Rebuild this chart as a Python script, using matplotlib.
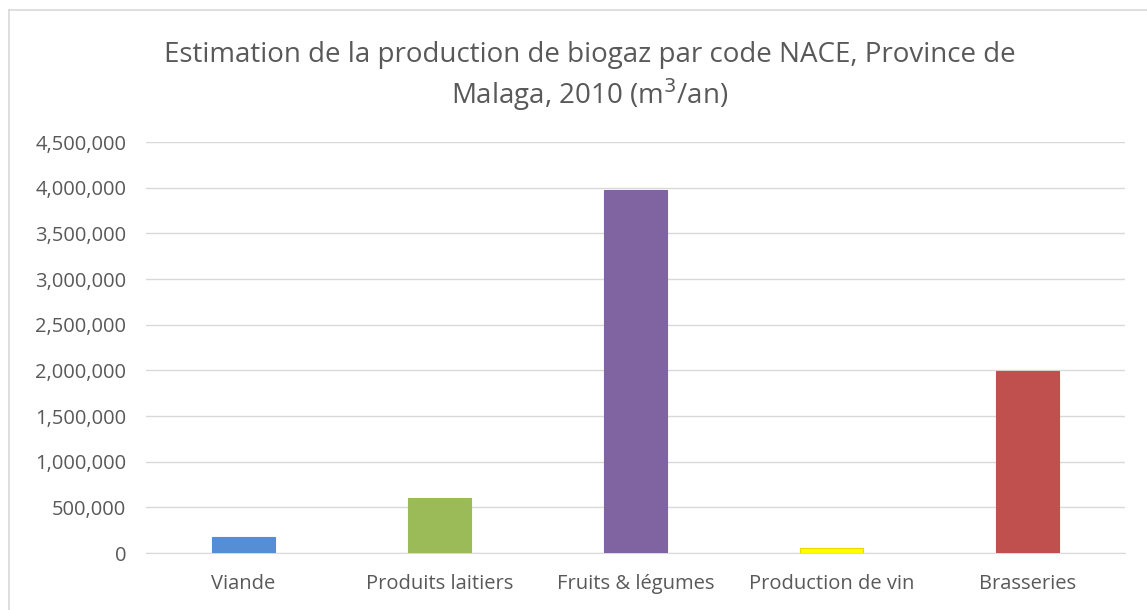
import matplotlib
matplotlib.use('Agg')
import matplotlib.pyplot as plt
import matplotlib.ticker as mticker
from matplotlib.lines import Line2D

categories = ['Viande', 'Produits laitiers', 'Fruits & légumes', 'Production de vin', 'Brasseries']
values = [180000, 600000, 3980000, 50000, 1990000]
colors = ['#558ED5', '#9BBB59', '#8064A2', '#FFFF00', '#C0504D']
edges = ['#558ED5', '#9BBB59', '#8064A2', '#E6D800', '#C0504D']

plt.rcParams['font.family'] = ['Open Sans', 'DejaVu Sans']
TXT = '#595959'
W, H = 1147, 610

fig = plt.figure(figsize=(W / 100, H / 100), dpi=100)
ax = fig.add_axes([0.127, 0.0934, 0.854, 0.6736])

x = range(len(categories))
ax.bar(x, values, width=0.32, color=colors, edgecolor=edges, linewidth=0.8, zorder=3)

ax.set_xlim(-0.5, len(categories) - 0.5)
ax.set_ylim(0, 4500000)
ax.yaxis.set_major_locator(mticker.MultipleLocator(500000))
ax.yaxis.set_major_formatter(mticker.FuncFormatter(lambda v, p: f'{int(v):,}'))
ax.grid(axis='y', color='#D9D9D9', lw=1.0, zorder=0)
ax.set_xticks(list(x))
ax.set_xticklabels(categories)
ax.tick_params(axis='both', length=0, labelsize=14.5, colors=TXT)
ax.tick_params(axis='x', pad=15)
ax.tick_params(axis='y', pad=14)
for s in ['top', 'right', 'left']:
    ax.spines[s].set_visible(False)
ax.spines['bottom'].set_color('#D9D9D9')

fig.text(0.514, 0.91, 'Estimation de la production de biogaz par code NACE, Province de',
         ha='center', va='center', fontsize=20, color=TXT)
fig.text(0.514, 0.845, r'Malaga, 2010 (m$^3$/an)',
         ha='center', va='center', fontsize=20, color=TXT)

# chart frame (cut off at right and bottom in the reference)
fig.lines.append(Line2D([9 / W, 1.0], [1 - 10 / H] * 2, transform=fig.transFigure,
                        color='#D9D9D9', lw=1.2))
fig.lines.append(Line2D([9 / W] * 2, [0.0, 1 - 10 / H], transform=fig.transFigure,
                        color='#D9D9D9', lw=1.2))

fig.savefig('out.png', dpi=100)
